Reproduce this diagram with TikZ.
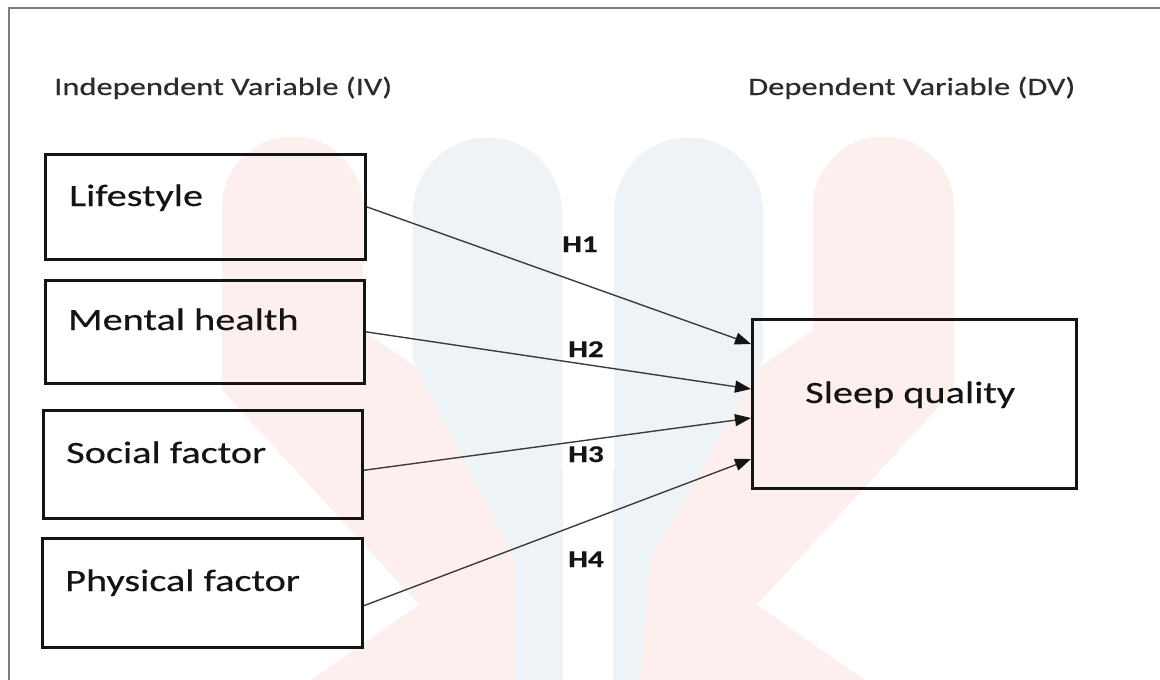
\documentclass[tikz,border=0pt]{standalone}
\usepackage{fontspec}
\setmainfont{Carlito}[FakeStretch=1.3, FakeBold=0.4]
\usetikzlibrary{arrows.meta}
\definecolor{wmred}{RGB}{254,239,239}
\definecolor{wmblue}{RGB}{238,243,248}
\definecolor{framegray}{RGB}{125,125,125}
\definecolor{ink}{RGB}{20,20,20}
\definecolor{arrowink}{RGB}{60,60,60}
\tikzset{
  box/.style={draw=ink, line width=2.6pt, anchor=north west, inner sep=0pt},
  boxtext/.style={anchor=base west, inner sep=0pt, text=ink, font=\fontsize{31}{37}\selectfont},
  head/.style={anchor=base west, inner sep=0pt, text=ink!90, font=\fontsize{25}{30}\selectfont},
  hyp/.style={anchor=base, inner sep=0pt, text=ink, font=\bfseries\fontsize{24}{29}\selectfont},
  link/.style={draw=arrowink, line width=1.4pt, -{Triangle[length=16pt,width=12pt,color=ink,fill=ink]}}
}
\begin{document}
\begin{tikzpicture}[x=1pt,y=-1pt]
\useasboundingbox (0,0) rectangle (1160,680);
% watermark
\fill[wmred] (222,207) arc[start angle=180,end angle=360,radius=70.5] -- (363,330) -- (865,680) -- (488,680) -- (222,390) -- cycle;
\fill[wmred] (813,207) arc[start angle=180,end angle=360,radius=70.5] -- (954,390) -- (688,680) -- (311,680) -- (813,330) -- cycle;
\fill[wmblue] (413,212) arc[start angle=180,end angle=360,radius=74.5] -- (562,680) -- (515,680) -- (515,560) -- (413,360) -- cycle;
\fill[wmblue] (614,212) arc[start angle=180,end angle=360,radius=74.5] -- (763,360) -- (650,560) -- (640,680) -- (614,680) -- cycle;
\fill[white] (563,130) rectangle (613,680);
% frame
\draw[framegray, line width=2pt] (9,680) -- (9,8) -- (1160,8);
% headings
\node[head] (iv) at (54,95) {Independent Variable (IV)};
\node[head] (dv) at (748,95) {Dependent Variable (DV)};
% boxes
\node[box, minimum width=320pt, minimum height=105pt] (life) at (44,153) {};
\node[box, minimum width=319pt, minimum height=103pt] (mental) at (44,279) {};
\node[box, minimum width=319pt, minimum height=108pt] (social) at (42,409) {};
\node[box, minimum width=320pt, minimum height=109pt] (physical) at (41,537) {};
\node[box, minimum width=324pt, minimum height=169pt] (sleep) at (751,318) {};
\node[boxtext] (tlife) at (69,206) {Lifestyle};
\node[boxtext] (tmental) at (68,330) {Mental health};
\node[boxtext] (tsocial) at (66,463) {Social factor};
\node[boxtext] (tphysical) at (65,591) {Physical factor};
\node[boxtext] (tsleep) at (805,403) {Sleep quality};
% connectors
\draw[link] (life.east) -- ([yshift=-26pt]sleep.north west);
\draw[link] (mental.east) -- ([yshift=-71pt]sleep.north west);
\draw[link] ([yshift=-6pt]social.east) -- ([yshift=-100pt]sleep.north west);
\draw[link] ([yshift=-13pt]physical.east) -- ([yshift=-141pt]sleep.north west);
% hypotheses
\node[hyp] (h1) at (580,252) {H1};
\node[hyp] (h2) at (586,357) {H2};
\node[hyp] (h3) at (586,462) {H3};
\node[hyp] (h4) at (586,567) {H4};
\end{tikzpicture}
\end{document}
